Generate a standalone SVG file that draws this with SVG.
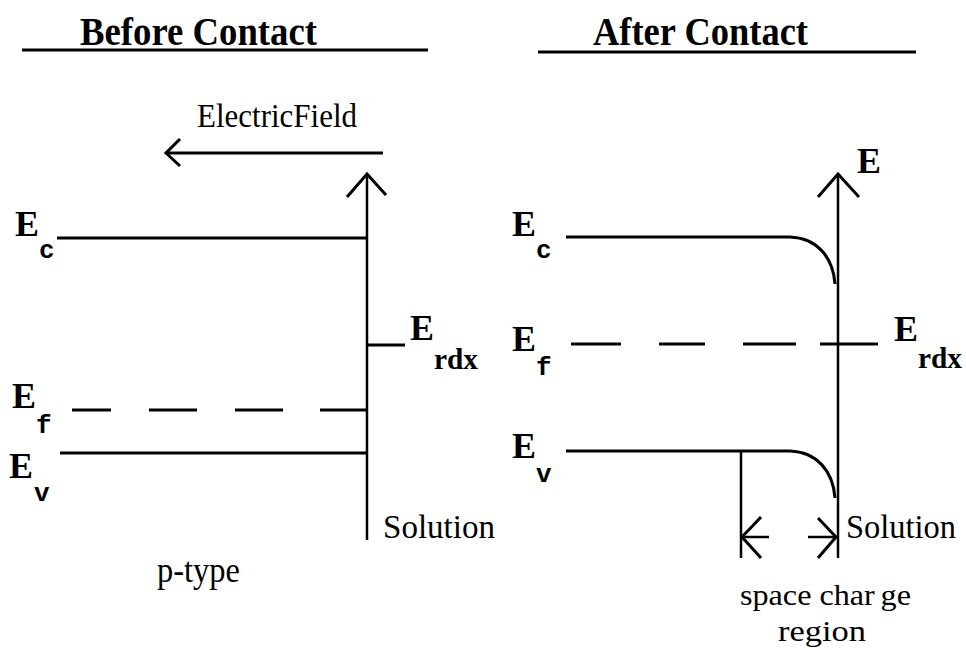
<svg xmlns="http://www.w3.org/2000/svg" width="966" height="650" viewBox="0 0 966 650">
<style>
.ln{stroke:#000;stroke-width:3;fill:none;stroke-linecap:butt}
.ax{stroke:#000;stroke-width:2.5;fill:none}
.hd{stroke:#000;stroke-width:3;fill:none;stroke-linejoin:miter}
.t{font-family:"Liberation Serif",serif;fill:#000}
.title{font-family:"Liberation Serif",serif;font-weight:bold;font-size:40px;fill:#000}
.e{font-family:"Liberation Serif",serif;font-weight:bold;font-size:36px;fill:#000}
.s{font-family:"Liberation Mono",monospace;font-weight:bold;font-size:26px;fill:#000}
.sr{font-family:"Liberation Serif",serif;font-weight:bold;font-size:30px;fill:#000}
</style>
<rect width="966" height="650" fill="#fff"/>

<g id="before-title">
<text class="title" x="80" y="45" textLength="237" lengthAdjust="spacingAndGlyphs">Before Contact</text>
<line class="ln" x1="22" y1="50" x2="428" y2="50"/>
</g>
<g id="after-title">
<text class="title" x="593" y="45" textLength="215" lengthAdjust="spacingAndGlyphs">After Contact</text>
<line class="ln" x1="538" y1="52" x2="916" y2="52"/>
</g>

<g id="connectors">
<line class="ln" x1="166" y1="153" x2="383" y2="153"/>
<polyline class="hd" points="180,139 166,153 180,166"/>
<line class="ax" x1="367" y1="174" x2="367" y2="540"/>
<polyline class="hd" points="347,197 367,174 386,195"/>
<line class="ax" x1="838" y1="174" x2="838" y2="558"/>
<polyline class="hd" points="818,197 838,174 859,197"/>
<line class="ax" x1="741" y1="451" x2="741" y2="558"/>
<line class="ax" x1="741" y1="537" x2="769" y2="537"/>
<polyline class="hd" points="761,517 742,537 761,558"/>
<line class="ax" x1="808" y1="537" x2="836" y2="537"/>
<polyline class="hd" points="818,518 836,537 818,558"/>
</g>

<g id="left-levels">
<line class="ln" x1="57" y1="238" x2="367" y2="238"/>
<line class="ln" x1="367" y1="345" x2="405" y2="345"/>
<path class="ln" d="M72 410H111M149 410H197M235 410H283M320 410H366"/>
<line class="ln" x1="60" y1="453" x2="367" y2="453"/>
</g>

<g id="right-levels">
<path class="ln" d="M566 237H790C816 238 833 256 835 284"/>
<path class="ln" d="M571 344H621M659 344H705M743 344H796M820 344H878"/>
<path class="ln" d="M566 451H790C816 452 833 470 835 498"/>
</g>

<g id="labels-left">
<text class="t" x="197" y="127" font-size="34" textLength="160" lengthAdjust="spacingAndGlyphs">ElectricField</text>
<text class="e" x="15" y="236">E</text><text class="s" x="39" y="258">c</text>
<text class="e" x="12" y="408">E</text><text class="s" x="36" y="433">f</text>
<text class="e" x="9" y="478">E</text><text class="s" x="34" y="501">v</text>
<text class="e" x="410" y="340">E</text><text class="sr" x="434" y="369" textLength="44" lengthAdjust="spacingAndGlyphs">rdx</text>
<text class="t" x="383" y="538" font-size="34" textLength="112" lengthAdjust="spacingAndGlyphs">Solution</text>
<text class="t" x="157" y="582" font-size="36" textLength="83" lengthAdjust="spacingAndGlyphs">p-type</text>
</g>

<g id="labels-right">
<text class="e" x="857" y="173" font-size="30">E</text>
<text class="e" x="512" y="236">E</text><text class="s" x="536" y="258">c</text>
<text class="e" x="512" y="351">E</text><text class="s" x="536" y="375">f</text>
<text class="e" x="512" y="458">E</text><text class="s" x="536" y="482">v</text>
<text class="e" x="894" y="341">E</text><text class="sr" x="918" y="368" textLength="44" lengthAdjust="spacingAndGlyphs">rdx</text>
<text class="t" x="846" y="538" font-size="34" textLength="110" lengthAdjust="spacingAndGlyphs">Solution</text>
<text class="t" x="740" y="605" font-size="30" textLength="171" lengthAdjust="spacingAndGlyphs">space char<tspan dx="6">ge</tspan></text>
<text class="t" x="778" y="641" font-size="30" textLength="88" lengthAdjust="spacingAndGlyphs">region</text>
</g>
</svg>
